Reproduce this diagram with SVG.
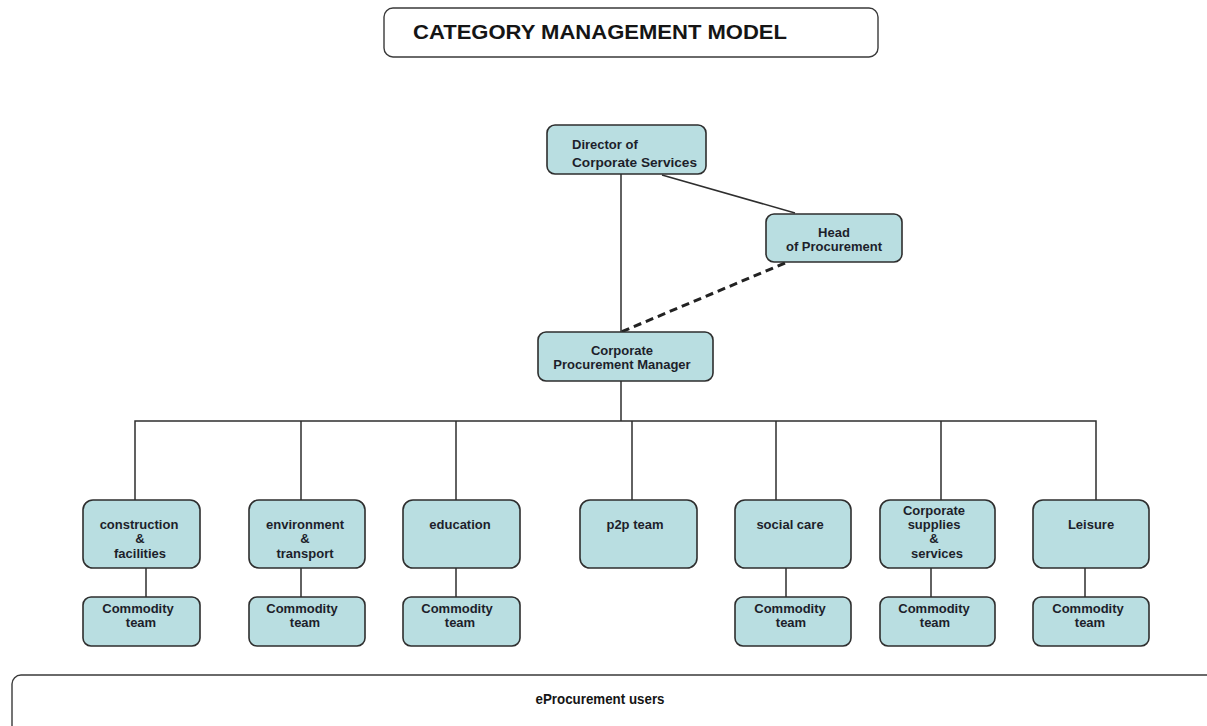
<svg xmlns="http://www.w3.org/2000/svg" width="1207" height="726" viewBox="0 0 1207 726">
<style>
.box{fill:#b9dee1;stroke:#2e2e2e;stroke-width:1.6}
.frame{fill:#ffffff;stroke:#3a3a3a;stroke-width:1.4}
.t{font-family:"Liberation Sans",Arial,sans-serif;font-size:13px;font-weight:bold;fill:#1d1f2b;text-anchor:middle}
.tl{font-family:"Liberation Sans",Arial,sans-serif;font-size:13px;font-weight:bold;fill:#1d1f2b}
.ln{stroke:#2e2e2e;stroke-width:1.5;fill:none}
</style>
<rect width="1207" height="726" fill="#ffffff"/>
<g id="title">
<rect class="frame" x="384" y="8" width="494" height="49" rx="9"/>
<text x="413" y="39" font-family="Liberation Sans,Arial,sans-serif" font-size="21" font-weight="bold" fill="#151515" textLength="374" lengthAdjust="spacingAndGlyphs">CATEGORY  MANAGEMENT  MODEL</text>
</g>
<g id="connectors">
<line class="ln" x1="621" y1="174" x2="621" y2="332"/>
<line class="ln" x1="662" y1="175" x2="795" y2="213"/>
<line x1="785" y1="263" x2="621" y2="332" stroke="#222" stroke-width="3" stroke-dasharray="8,5"/>
<line class="ln" x1="621" y1="381" x2="621" y2="421"/>
<polyline class="ln" points="135,500 135,421 1096,421 1096,500"/>
<line class="ln" x1="301" y1="421" x2="301" y2="500"/>
<line class="ln" x1="456" y1="421" x2="456" y2="500"/>
<line class="ln" x1="632" y1="421" x2="632" y2="500"/>
<line class="ln" x1="776" y1="421" x2="776" y2="500"/>
<line class="ln" x1="941" y1="421" x2="941" y2="500"/>
<line class="ln" x1="146" y1="568" x2="146" y2="597"/>
<line class="ln" x1="301" y1="568" x2="301" y2="597"/>
<line class="ln" x1="456" y1="568" x2="456" y2="597"/>
<line class="ln" x1="786" y1="568" x2="786" y2="597"/>
<line class="ln" x1="931" y1="568" x2="931" y2="597"/>
<line class="ln" x1="1085" y1="568" x2="1085" y2="597"/>
</g>
<g id="director">
<rect class="box" x="547" y="125" width="159" height="49" rx="8"/>
<text class="tl" x="572" y="149">Director of</text>
<text class="tl" x="572" y="167" textLength="125" lengthAdjust="spacingAndGlyphs">Corporate  Services</text>
</g>
<g id="head">
<rect class="box" x="766" y="214" width="136" height="48" rx="8"/>
<text class="t" x="834" y="237">Head</text>
<text class="t" x="834" y="251">of Procurement</text>
</g>
<g id="cpm">
<rect class="box" x="538" y="332" width="175" height="49" rx="8"/>
<text class="t" x="622" y="355">Corporate</text>
<text class="t" x="622" y="369">Procurement Manager</text>
</g>
<g id="construction">
<rect class="box" x="83" y="500" width="117" height="68" rx="10"/>
<text class="t" x="139" y="529">construction</text>
<text class="t" x="140" y="543">&amp;</text>
<text class="t" x="140" y="558">facilities</text>
</g>
<g id="environment">
<rect class="box" x="249" y="500" width="116" height="68" rx="10"/>
<text class="t" x="305" y="529">environment</text>
<text class="t" x="305" y="543">&amp;</text>
<text class="t" x="305" y="558">transport</text>
</g>
<g id="education">
<rect class="box" x="403" y="500" width="117" height="68" rx="10"/>
<text class="t" x="460" y="529">education</text>
</g>
<g id="p2p">
<rect class="box" x="580" y="500" width="117" height="68" rx="10"/>
<text class="t" x="635" y="529">p2p team</text>
</g>
<g id="socialcare">
<rect class="box" x="735" y="500" width="116" height="68" rx="10"/>
<text class="t" x="790" y="529">social care</text>
</g>
<g id="corporate">
<rect class="box" x="880" y="500" width="115" height="68" rx="10"/>
<text class="t" x="934" y="515">Corporate</text>
<text class="t" x="934" y="529">supplies</text>
<text class="t" x="934" y="543">&amp;</text>
<text class="t" x="937" y="558">services</text>
</g>
<g id="leisure">
<rect class="box" x="1033" y="500" width="116" height="68" rx="10"/>
<text class="t" x="1091" y="529">Leisure</text>
</g>
<g id="commodity1">
<rect class="box" x="83" y="597" width="117" height="49" rx="8"/>
<text class="t" x="138" y="613">Commodity</text>
<text class="t" x="141" y="627">team</text>
</g>
<g id="commodity2">
<rect class="box" x="249" y="597" width="116" height="49" rx="8"/>
<text class="t" x="302" y="613">Commodity</text>
<text class="t" x="305" y="627">team</text>
</g>
<g id="commodity3">
<rect class="box" x="403" y="597" width="117" height="49" rx="8"/>
<text class="t" x="457" y="613">Commodity</text>
<text class="t" x="460" y="627">team</text>
</g>
<g id="commodity4">
<rect class="box" x="735" y="597" width="116" height="49" rx="8"/>
<text class="t" x="790" y="613">Commodity</text>
<text class="t" x="791" y="627">team</text>
</g>
<g id="commodity5">
<rect class="box" x="880" y="597" width="115" height="49" rx="8"/>
<text class="t" x="934" y="613">Commodity</text>
<text class="t" x="935" y="627">team</text>
</g>
<g id="commodity6">
<rect class="box" x="1033" y="597" width="116" height="49" rx="8"/>
<text class="t" x="1088" y="613">Commodity</text>
<text class="t" x="1090" y="627">team</text>
</g>
<g id="eprocurement">
<rect class="frame" x="12" y="675" width="1230" height="75" rx="9"/>
<text x="600" y="704" font-family="Liberation Sans,Arial,sans-serif" font-size="15" font-weight="bold" fill="#151515" text-anchor="middle" textLength="129" lengthAdjust="spacingAndGlyphs">eProcurement users</text>
</g>
</svg>
